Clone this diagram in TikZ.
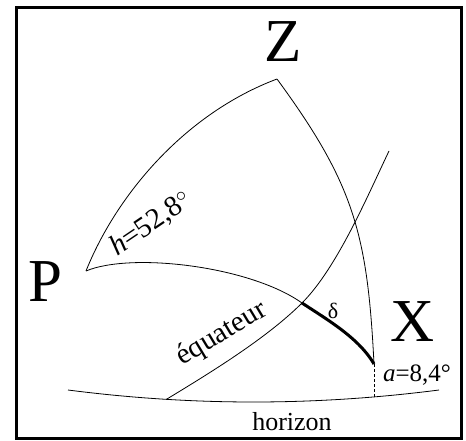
\documentclass[tikz,border=0pt]{standalone}
\usepackage{fontspec}
\setmainfont{Liberation Serif}
\begin{document}
\begin{tikzpicture}[x=1pt,y=-1pt,
  arcline/.style={line width=0.8pt},
  thickarc/.style={line width=3pt},
  bigletter/.style={inner sep=0pt,font=\fontsize{61}{61}\selectfont},
  lbl/.style={inner sep=0pt,font=\fontsize{26}{26}\selectfont},
  rotlbl/.style={inner sep=0pt,font=\fontsize{29}{29}\selectfont}]
\useasboundingbox (0,0) rectangle (466,441);
\draw[line width=3pt] (16.5,7.5) rectangle (461.5,438.5);
% points
\coordinate (Zp) at (277,79);
\coordinate (Pp) at (86,271);
\coordinate (Xp) at (374,364);
\coordinate (E) at (302,303);
\coordinate (T) at (389,151);
\coordinate (L) at (68,390);
\coordinate (R) at (439,390);
% horizon
\draw[arcline] (L) .. controls (192,406) and (315,406) .. (R)
  coordinate[pos=0.265] (H1) coordinate[pos=0.825] (Hx);
% arc Z-P
\draw[arcline] (Zp) .. controls (184,114) and (116,196) .. (Pp);
% meridian Z-X
\draw[arcline] (Zp) .. controls (354,184) and (367.5,234) .. (Xp);
% arc P-E-X
\draw[arcline] (Pp) .. controls (131,252) and (250,266) .. (E);
\draw[thickarc] (E) .. controls (327,319.5) and (359,338) .. (Xp);
% equator
\draw[arcline] (H1) .. controls (209,373.5) and (266.6,338.4) .. (E)
  .. controls (337,268) and (367.5,196) .. (T);
% dashed drop
\draw[line width=0.8pt,dash pattern=on 3pt off 2pt] (Xp) -- (Xp |- Hx);
% labels
\node[bigletter] (Z) at (283.5,42) {Z};
\node[bigletter] (P) at (45.5,281.5) {P};
\node[bigletter] (X) at (413,321.5) {X};
\node[rotlbl,rotate=34] (h) at (151,224) {\textit{h}=52,8$^\circ$};
\node[rotlbl,rotate=31] (eq) at (222,334) {équateur};
\node[inner sep=0pt,font=\fontsize{22}{22}\selectfont] (d) at (333,311) {δ};
\node[inner sep=0pt,font=\fontsize{25}{25}\selectfont] (a) at (417,375) {\textit{a}=8,4°};
\node[lbl] (hor) at (292,422) {horizon};
\end{tikzpicture}
\end{document}
